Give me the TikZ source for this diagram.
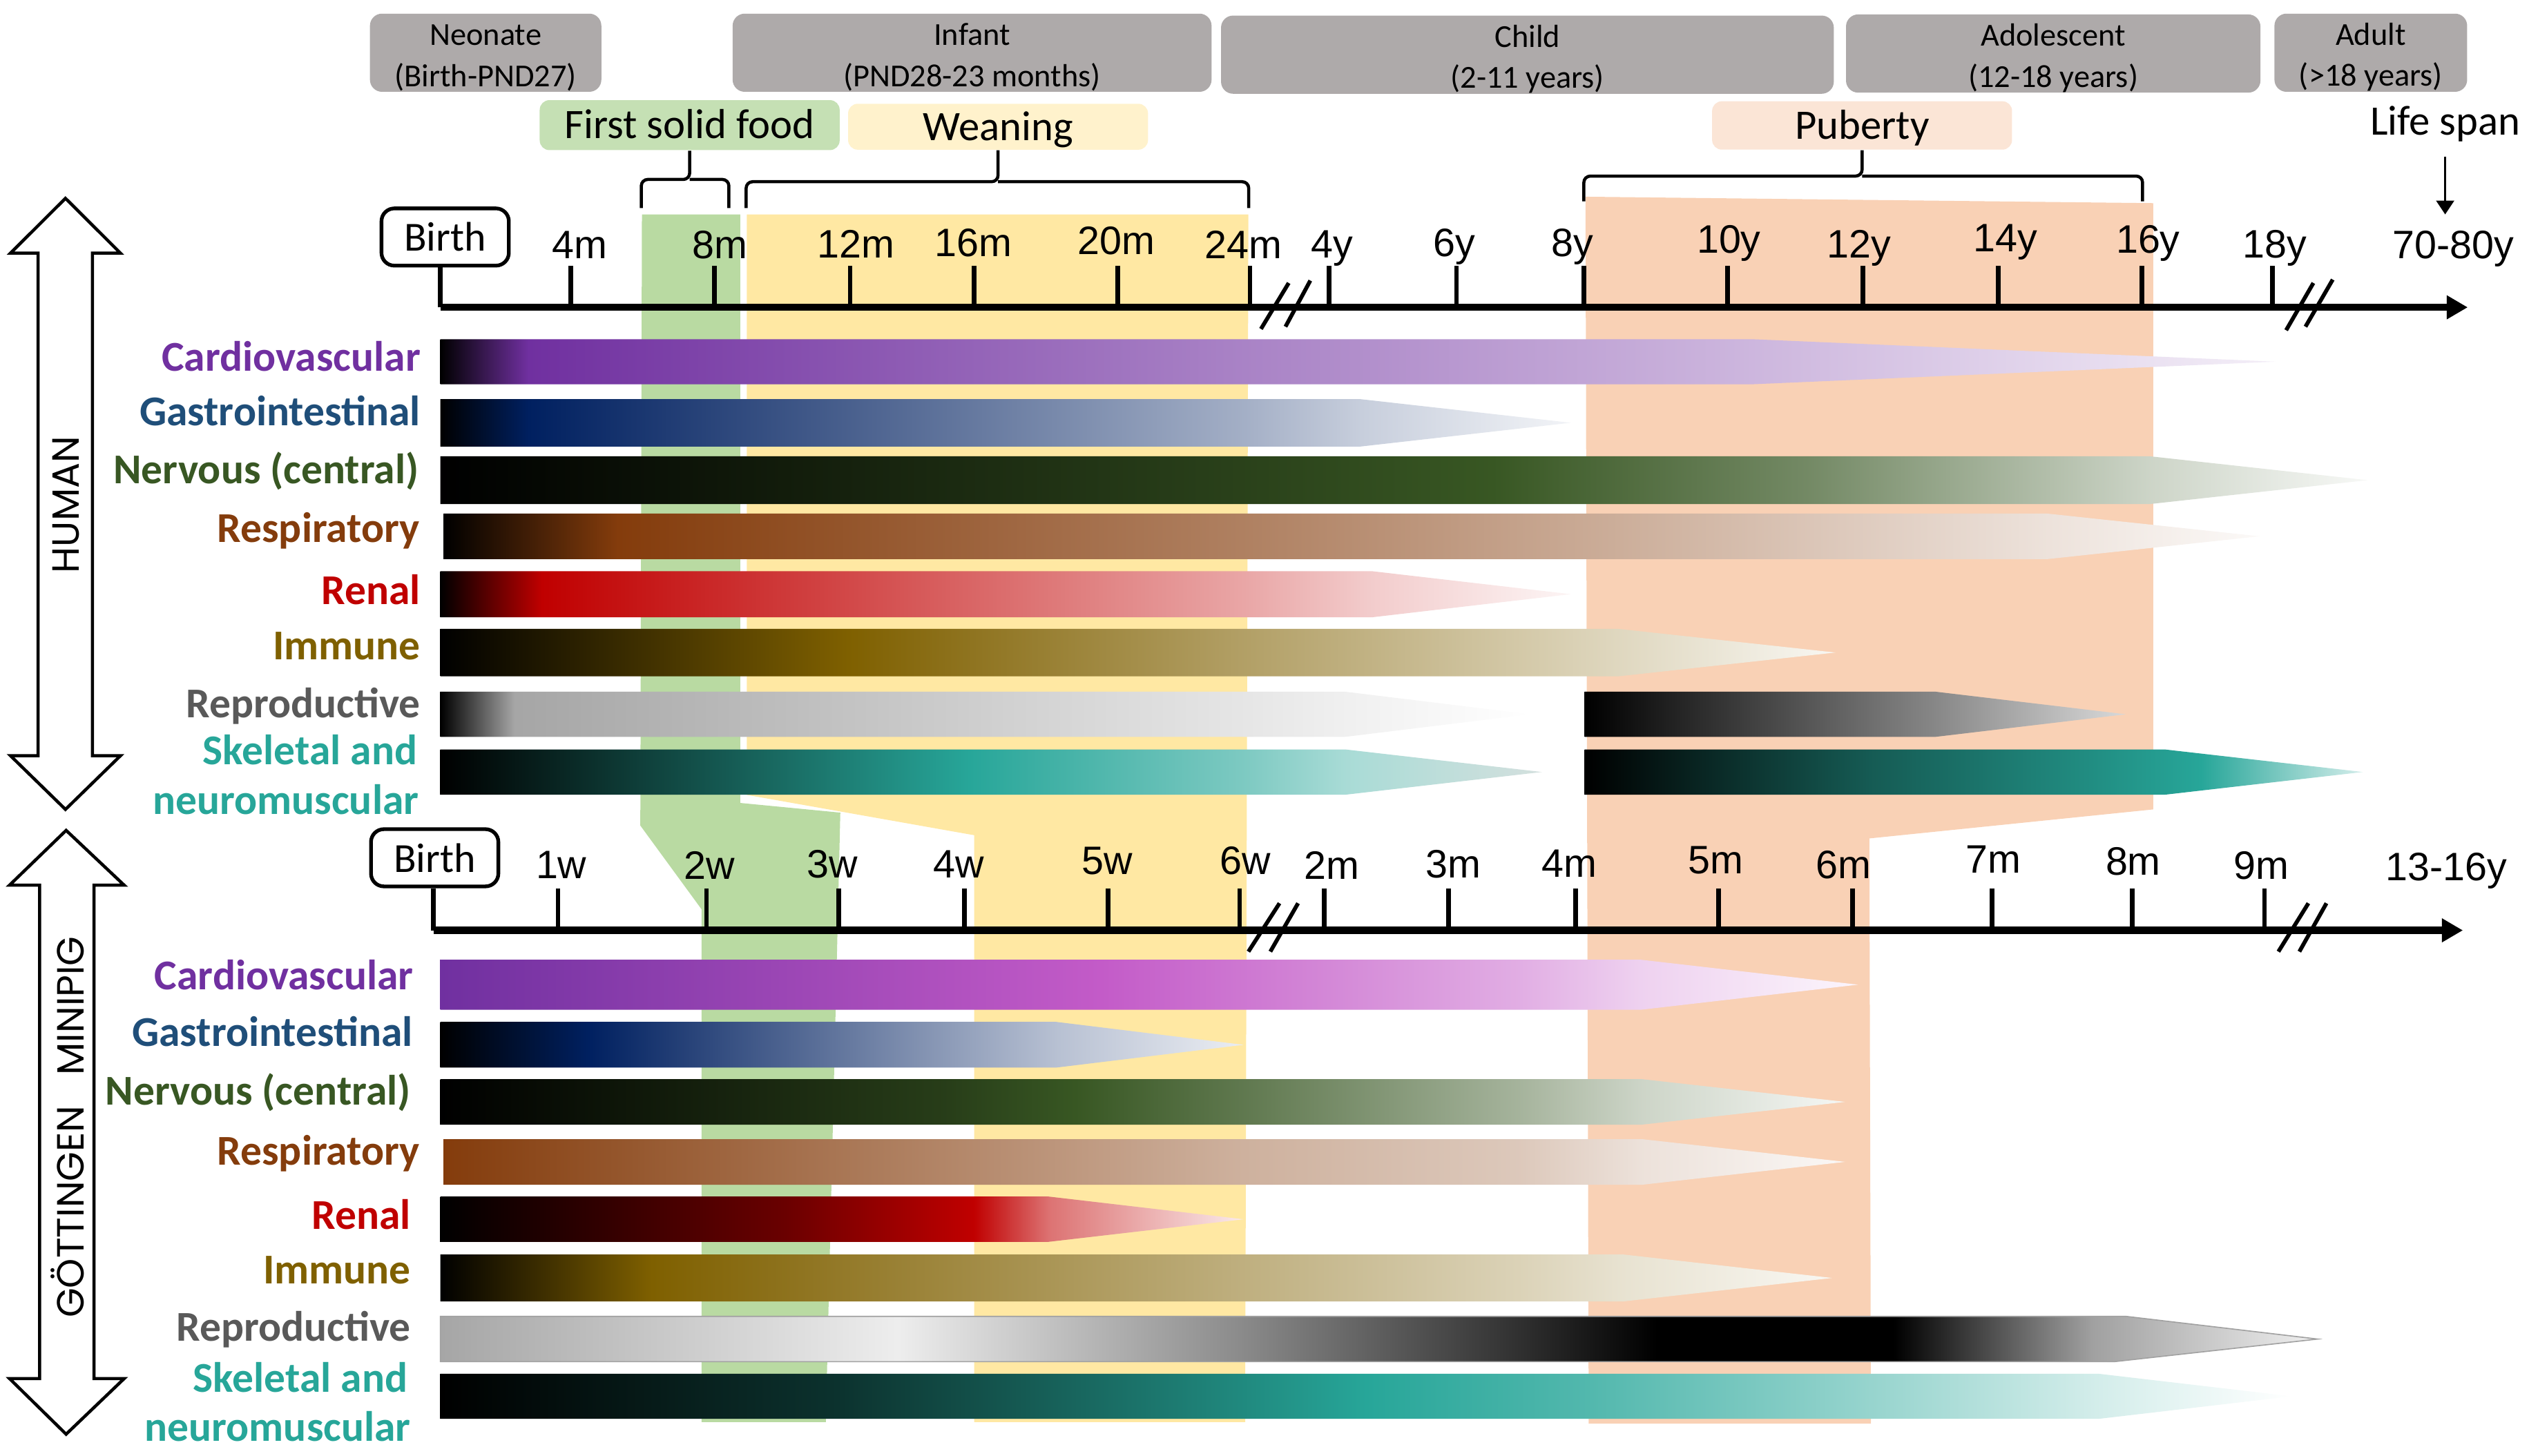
\documentclass[tikz,border=0pt]{standalone}
\usepackage{fontspec}
\setmainfont{Carlito}
\newfontfamily\axisfont{Liberation Sans}
\newfontfamily\sidefont{Poppins}
\usetikzlibrary{arrows.meta}

\definecolor{cardio}{HTML}{7030A0}
\definecolor{pigmag}{HTML}{C35BC8}
\definecolor{gidark}{HTML}{002060}
\definecolor{gitext}{HTML}{1F4E79}
\definecolor{nerv}{HTML}{385723}
\definecolor{resp}{HTML}{843C0C}
\definecolor{renal}{HTML}{C00000}
\definecolor{immune}{HTML}{7F6000}
\definecolor{reprotext}{HTML}{595959}
\definecolor{skel}{HTML}{27A699}
\definecolor{skeltip}{HTML}{D4E0DE}
\definecolor{agegrey}{HTML}{AEAAAA}
\definecolor{foodgreen}{HTML}{C5E0B4}
\definecolor{weanyellow}{HTML}{FFF2CC}
\definecolor{pubpeach}{HTML}{FBE5D6}
\definecolor{greenband}{HTML}{B9DAA2}
\definecolor{yellowband}{HTML}{FFE8A3}
\definecolor{peachband}{HTML}{F9D1B5}

% human bars
\pgfdeclarehorizontalshading{hcardio}{100bp}{color(0bp)=(black); color(25bp)=(black); color(27.4bp)=(cardio); color(46.9bp)=(cardio!60!white); color(60.8bp)=(cardio!35!white); color(75bp)=(cardio!8!white); color(100bp)=(cardio!8!white)}
\pgfdeclarehorizontalshading{hgi}{100bp}{color(0bp)=(black); color(25bp)=(black); color(28.9bp)=(gidark); color(60.5bp)=(gidark!36!white); color(65.7bp)=(gidark!22!white); color(75bp)=(gidark!5!white); color(100bp)=(gidark!5!white)}
\pgfdeclarehorizontalshading{hnerv}{100bp}{color(0bp)=(black); color(25bp)=(black); color(45.8bp)=(nerv!75!black); color(52.3bp)=(nerv); color(60.5bp)=(nerv!70!white); color(69.4bp)=(nerv!25!white); color(75bp)=(nerv!4!white); color(100bp)=(nerv!4!white)}
\pgfdeclarehorizontalshading{hresp}{100bp}{color(0bp)=(black); color(25bp)=(black); color(29.8bp)=(resp); color(47bp)=(resp!65!white); color(69.1bp)=(resp!15!white); color(75bp)=(resp!3!white); color(100bp)=(resp!3!white)}
\pgfdeclarehorizontalshading{hrenal}{100bp}{color(0bp)=(black); color(25bp)=(black); color(29.5bp)=(renal); color(60.5bp)=(renal!35!white); color(66.2bp)=(renal!20!white); color(75bp)=(renal!4!white); color(100bp)=(renal!4!white)}
\pgfdeclarehorizontalshading{himmune}{100bp}{color(0bp)=(black); color(25bp)=(black); color(39.6bp)=(immune); color(53.8bp)=(immune!60!white); color(67.2bp)=(immune!25!white); color(75bp)=(immune!5!white); color(100bp)=(immune!5!white)}
\pgfdeclarehorizontalshading{hreproA}{100bp}{color(0bp)=(black); color(25bp)=(black); color(28.4bp)=(black!35); color(61.8bp)=(black!10); color(66.5bp)=(black!6); color(75bp)=(white); color(100bp)=(white)}
\pgfdeclarehorizontalshading{hreproB}{100bp}{color(0bp)=(black); color(25bp)=(black); color(57.4bp)=(black!47); color(75bp)=(black!15); color(100bp)=(black!15)}
\pgfdeclarehorizontalshading{hskelA}{100bp}{color(0bp)=(black); color(25bp)=(black); color(49bp)=(skel); color(61.5bp)=(skel!60!white); color(66.1bp)=(skel!40!white); color(75bp)=(skeltip); color(100bp)=(skeltip)}
\pgfdeclarehorizontalshading{hskelB}{100bp}{color(0bp)=(black); color(25bp)=(black); color(43.4bp)=(skel!55!black); color(64.6bp)=(skel); color(75bp)=(skel!20!white); color(100bp)=(skel!20!white)}
% minipig bars
\pgfdeclarehorizontalshading{pcardio}{100bp}{color(0bp)=(cardio); color(25bp)=(cardio); color(48.3bp)=(pigmag); color(63bp)=(pigmag!50!white); color(67.3bp)=(pigmag!28!white); color(75bp)=(pigmag!6!white); color(100bp)=(pigmag!6!white)}
\pgfdeclarehorizontalshading{pgi}{100bp}{color(0bp)=(black); color(25bp)=(black); color(34.2bp)=(gidark); color(63.4bp)=(gidark!28!white); color(75bp)=(gidark!8!white); color(100bp)=(gidark!8!white)}
\pgfdeclarehorizontalshading{pnerv}{100bp}{color(0bp)=(black); color(25bp)=(black); color(42.9bp)=(nerv!70!black); color(47.6bp)=(nerv); color(53.6bp)=(nerv!80!white); color(63.4bp)=(nerv!45!white); color(67.8bp)=(nerv!25!white); color(75bp)=(nerv!5!white); color(100bp)=(nerv!5!white)}
\pgfdeclarehorizontalshading{presp}{100bp}{color(0bp)=(resp); color(25bp)=(resp); color(53.5bp)=(resp!40!white); color(63.4bp)=(resp!28!white); color(67.8bp)=(resp!15!white); color(75bp)=(resp!4!white); color(100bp)=(resp!4!white)}
\pgfdeclarehorizontalshading{prenal}{100bp}{color(0bp)=(black); color(25bp)=(black); color(46.4bp)=(renal!55!black); color(58.2bp)=(renal); color(62.9bp)=(renal!55!white); color(75bp)=(renal!8!white); color(100bp)=(renal!8!white)}
\pgfdeclarehorizontalshading{pimmune}{100bp}{color(0bp)=(black); color(25bp)=(black); color(32.6bp)=(immune); color(53.9bp)=(immune!50!white); color(63.8bp)=(immune!28!white); color(67.5bp)=(immune!18!white); color(75bp)=(immune!5!white); color(100bp)=(immune!5!white)}
\pgfdeclarehorizontalshading{prepro}{100bp}{color(0bp)=(black!35); color(25bp)=(black!35); color(37.2bp)=(black!7); color(46.4bp)=(black!46); color(53.7bp)=(black!81); color(57.4bp)=(black); color(63.7bp)=(black); color(69bp)=(black!37); color(75bp)=(black!6); color(100bp)=(black!6)}
\pgfdeclarehorizontalshading{pskel}{100bp}{color(0bp)=(black); color(25bp)=(black); color(35.7bp)=(skel!30!black); color(46.7bp)=(skel!83!black); color(50bp)=(skel); color(56bp)=(skel!80!white); color(64.4bp)=(skel!45!white); color(69.8bp)=(skel!20!white); color(75bp)=(white); color(100bp)=(white)}

\begin{document}
\begin{tikzpicture}[x=0.02cm, y=-0.02cm,
  agebox/.style={fill=agegrey, rounded corners=1.5mm, minimum height=0.97cm, inner sep=0pt, align=center, font=\fontsize{11.3}{14.5}\selectfont},
  eventbox/.style={rounded corners=1.2mm, minimum width=3.72cm, inner sep=0pt, text height=9.5pt, text depth=0pt, font=\fontsize{14.8}{16}\selectfont},
  birthbox/.style={draw, line width=1.3pt, rounded corners=1.6mm, fill=white, minimum width=1.58cm, minimum height=0.71cm, inner sep=0pt, font=\fontsize{14.6}{16}\selectfont},
  organ/.style={anchor=base east, inner sep=0pt, font=\bfseries\fontsize{15}{18}\selectfont},
  axislabel/.style={anchor=base, inner sep=0pt, font=\axisfont\fontsize{14}{16}\selectfont},
  tickmark/.style={line width=1.6pt},
  axisline/.style={line width=2.6pt, -{Triangle[length=2.6mm,width=2.8mm]}},
  breakmark/.style={line width=1.4pt},
  bracket/.style={line width=1.1pt, rounded corners=0.8mm},
  bigarrow/.style={line width=1.1pt, line join=miter},
  speciesname/.style={rotate=90, inner sep=0pt, font=\sidefont\fontsize{13.4}{15}\selectfont}]
\useasboundingbox (0,0) rectangle (1568,903);

% age windows, human above and minipig below
\fill[greenband] (398,133) -- (459,133) -- (459,498) -- (521,504) -- (512,882) -- (435,882) -- (435,564) -- (397,512) -- cycle;
\fill[yellowband] (463,133) -- (774,133) -- (772,882) -- (604,882) -- (604,518) -- (463,493) -- cycle;
\fill[peachband] (983,122) -- (1335,126) -- (1335,502) -- (1159,520) -- (1160,883) -- (985,883) -- cycle;

% life stages
\node[agebox, minimum width=2.87cm] (neonate) at (301.1,32.7) {\rule{0pt}{11pt}Neonate\\(Birth-PND27)};
\node[agebox, minimum width=5.94cm] (infant) at (602.7,32.7) {\rule{0pt}{11pt}Infant\\(PND28-23 months)};
\node[agebox, minimum width=7.6cm] (child) at (947,33.9) {\rule{0pt}{11pt}Child\\(2-11 years)};
\node[agebox, minimum width=5.14cm] (adolescent) at (1273,33.2) {\rule{0pt}{11pt}Adolescent\\(12-18 years)};
\node[agebox, minimum width=2.39cm] (adult) at (1469.9,32.7) {\rule{0pt}{11pt}Adult\\(\textgreater18 years)};

\node[eventbox, fill=foodgreen, minimum height=0.62cm] (firstfood) at (427.6,77.6) {First solid food};
\node[eventbox, fill=weanyellow, minimum height=0.57cm] (weaning) at (618.8,78.6) {Weaning};
\node[eventbox, fill=pubpeach, minimum height=0.6cm] (puberty) at (1154.5,77.8) {Puberty};

\draw[bracket] (397.6,129) |- (firstfood.south |- 0,111.3) -- (firstfood.south);
\draw[bracket] (451.9,129) |- (firstfood.south |- 0,111.3);
\draw[bracket] (462.6,129) |- (weaning.south |- 0,112.7) -- (weaning.south);
\draw[bracket] (774.2,129) |- (weaning.south |- 0,112.7);
\draw[bracket] (982,124.9) |- (puberty.south |- 0,109.2) -- (puberty.south);
\draw[bracket] (1328.4,124.9) |- (puberty.south |- 0,109.2);

% human time axis
\node[birthbox] (hbirth) at (276,147) {Birth};
\coordinate (haxis0) at (273,190.6);
\coordinate (haxis1) at (1530,190.6);
\draw[tickmark] (hbirth.south -| haxis0) -- (haxis0);
\foreach \x in {354,443,527,604,693,775,824,903,982,1071,1155,1239,1328,1409}
  \draw[tickmark] (\x,165) -- (\x,190.6);
\draw[axisline] (haxis0) -- (haxis1);
\foreach \x/\y/\t [count=\i] in {359.4/160.5/4m, 446.5/160.5/8m, 530.6/160/12m, 603.3/159/16m, 692/157.7/20m, 771/160.5/24m, 826/160/4y, 901.6/159/6y, 974.7/159/8y, 1071.9/157/10y, 1152.7/160/12y, 1243.2/156/14y, 1331.8/157/16y, 1410.2/160/18y}
  \node[axislabel] (hl\i) at (\x,\y) {\t};
\node[axislabel] (h7080) at (1520.9,160.5) {70-80y};
\draw[breakmark] (781.8,204) -- (799,175.5);
\draw[breakmark] (797,202.6) -- (812.4,174);
\draw[breakmark] (1417.4,204.8) -- (1434.3,175.5);
\draw[breakmark] (1429.4,202.6) -- (1446.3,173.4);

\node[anchor=base, inner sep=0pt, font=\fontsize{14.8}{16}\selectfont] (lifespan) at (1516,83.5) {Life span};
\draw[line width=0.7pt, -{Triangle[length=1.7mm,width=2.2mm]}, shorten <=1.8mm, shorten >=2mm] (lifespan.south) -- (lifespan.south |- h7080.north);

% human organ systems
\shade[shading=hcardio] (273,210.4) -- (1087,210.4) -- (1411,224.3) -- (1087,238.3) -- (273,238.3) -- cycle;
\shade[shading=hgi] (273,247.5) -- (843,247.5) -- (974,262.2) -- (843,277) -- (273,277) -- cycle;
\shade[shading=hnerv] (273,283) -- (1333,283) -- (1468,297.8) -- (1333,312.6) -- (273,312.6) -- cycle;
\shade[shading=hresp] (275,318.5) -- (1269,318.5) -- (1401,332.6) -- (1269,346.8) -- (275,346.8) -- cycle;
\shade[shading=hrenal] (273,354.3) -- (851,354.3) -- (974,368.5) -- (851,382.8) -- (273,382.8) -- cycle;
\shade[shading=himmune] (273,390) -- (1003,390) -- (1138,404.7) -- (1003,419.5) -- (273,419.5) -- cycle;
\shade[shading=hreproA] (273,429) -- (834,429) -- (949,443) -- (834,457) -- (273,457) -- cycle;
\shade[shading=hreproB] (982.5,429) -- (1200,429) -- (1318,443) -- (1200,457) -- (982.5,457) -- cycle;
\shade[shading=hskelA] (273,464.8) -- (834,464.8) -- (956,478.8) -- (834,492.9) -- (273,492.9) -- cycle;
\shade[shading=hskelB] (982.5,464.8) -- (1342,464.8) -- (1465,478.8) -- (1342,492.9) -- (982.5,492.9) -- cycle;

\node[organ, text=cardio] (hcardio) at (261,230) {Cardiovascular};
\node[organ, text=gitext] (hgi) at (261,263.9) {Gastrointestinal};
\node[organ, text=nerv] (hnerv) at (260,300) {Nervous (central)};
\node[organ, text=resp] (hresp) at (260.5,336.5) {Respiratory};
\node[organ, text=renal] (hrenal) at (261,374.9) {Renal};
\node[organ, text=immune] (himmune) at (261,409.2) {Immune};
\node[organ, text=reprotext] (hrepro) at (261,445.3) {Reproductive};
\node[organ, text=skel] (hskel) at (259,474.3) {Skeletal and};
\node[organ, text=skel] (hskel2) at (260,505) {neuromuscular};

% minipig time axis
\node[birthbox] (pbirth) at (269.5,532) {Birth};
\coordinate (paxis0) at (268.7,577);
\coordinate (paxis1) at (1527,577);
\draw[tickmark] (pbirth.south -| paxis0) -- (paxis0);
\foreach \x in {346,438,520,598,687,768.5,821,898,977,1065.5,1148.5,1235,1322,1404}
  \draw[tickmark] (\x,551) -- (\x,577);
\draw[axisline] (paxis0) -- (paxis1);
\foreach \x/\y/\t [count=\i] in {348/545/1w, 440/545.2/2w, 516/544.5/3w, 594.5/544.5/4w, 686.3/542.4/5w, 772.3/542.4/6w, 825.8/545.2/2m, 901/544.5/3m, 973/543.8/4m, 1063.7/542/5m, 1143/544.8/6m, 1236/541.6/7m, 1322.6/542.6/8m, 1402.2/545.2/9m, 1516.8/546/13-16y}
  \node[axislabel] (pl\i) at (\x,\y) {\t};
\draw[breakmark] (774,590.2) -- (793.3,560.2);
\draw[breakmark] (787.6,590.2) -- (804.8,560.2);
\draw[breakmark] (1412.6,590.2) -- (1431.2,560.2);
\draw[breakmark] (1425.6,590.2) -- (1442.4,560.2);

% minipig organ systems
\shade[shading=pcardio] (273,595.2) -- (1017,595.2) -- (1152,610.7) -- (1017,626.3) -- (273,626.3) -- cycle;
\shade[shading=pgi] (273,633.8) -- (655,633.8) -- (771,648) -- (655,662.1) -- (273,662.1) -- cycle;
\shade[shading=pnerv] (273,669.3) -- (1018,669.3) -- (1144,683.4) -- (1018,697.5) -- (273,697.5) -- cycle;
\shade[shading=presp] (275,706.5) -- (1018,706.5) -- (1144,720.6) -- (1018,734.8) -- (275,734.8) -- cycle;
\shade[shading=prenal] (273,742.1) -- (650,742.1) -- (771,756.2) -- (650,770.2) -- (273,770.2) -- cycle;
\shade[shading=pimmune] (273,778) -- (1006,778) -- (1136,792.6) -- (1006,807.2) -- (273,807.2) -- cycle;
\shadedraw[shading=prepro, draw=black!37, line width=0.4pt] (273,816.4) -- (1318,816.4) -- (1437,830.5) -- (1311,844.5) -- (273,844.5) -- cycle;
\shade[shading=pskel] (273,852) -- (1301,852) -- (1421,866) -- (1301,880) -- (273,880) -- cycle;

\node[organ, text=cardio] (pcardio) at (256.6,613.7) {Cardiovascular};
\node[organ, text=gitext] (pgi) at (256.3,649) {Gastrointestinal};
\node[organ, text=nerv] (pnerv) at (255,685.3) {Nervous (central)};
\node[organ, text=resp] (presp) at (260.5,722.5) {Respiratory};
\node[organ, text=renal] (prenal) at (255,762.3) {Renal};
\node[organ, text=immune] (pimmune) at (255,796.2) {Immune};
\node[organ, text=reprotext] (prepro) at (255,831.6) {Reproductive};
\node[organ, text=skel] (pskel) at (253,863.6) {Skeletal and};
\node[organ, text=skel] (pskel2) at (255,894) {neuromuscular};

% species arrows
\draw[bigarrow] (40.6,123) -- (74.7,157) -- (57.3,157) -- (57.3,468.7) -- (74.7,468.7) -- (40.6,502)
  -- (6.5,468.7) -- (23.6,468.7) -- (23.6,157) -- (6.5,157) -- cycle;
\node[speciesname] (human) at (41,313) {HUMAN};
\draw[bigarrow] (41,515) -- (77,549) -- (58.3,549) -- (58.3,855) -- (77,855) -- (41,889.5)
  -- (5.9,855) -- (24.6,855) -- (24.6,549) -- (5.9,549) -- cycle;
\node[speciesname] (minipig) at (42,699) {GÖTTINGEN\ \ \ MINIPIG};
\end{tikzpicture}
\end{document}
